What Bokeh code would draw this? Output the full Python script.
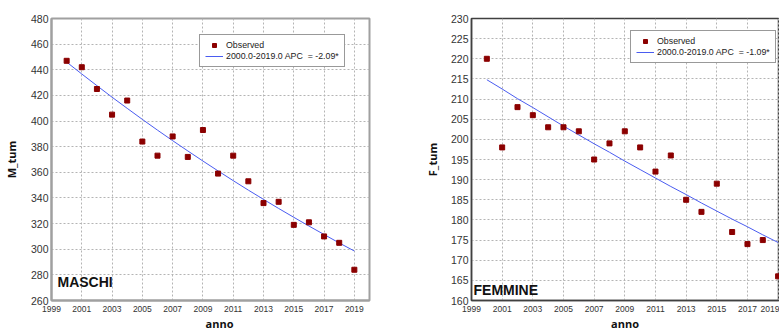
from bokeh.plotting import figure
from bokeh.models import FixedTicker, Range1d, Legend, LegendItem, Label, Div
from bokeh.layouts import row, column
from bokeh.embed import file_html
from bokeh.resources import INLINE

# ---- data ----
years = [2000, 2001, 2002, 2003, 2004, 2005, 2006, 2007, 2008, 2009,
         2010, 2011, 2012, 2013, 2014, 2015, 2016, 2017, 2018, 2019]
m_observed = [447, 442, 425, 405, 416, 384, 373, 388, 372, 393,
              359, 373, 353, 336, 337, 319, 321, 310, 305, 284]
m_fitted = [446.0, 436.7, 427.6, 418.6, 409.9, 401.3, 392.9, 384.7, 376.7, 368.8,
            361.1, 353.5, 346.1, 338.9, 331.8, 324.9, 318.1, 311.5, 304.9, 298.6]
f_observed = [220, 198, 208, 206, 203, 203, 202, 195, 199, 202,
              198, 192, 196, 185, 182, 189, 177, 174, 175, 166]
f_fitted = [214.8, 212.5, 210.1, 207.9, 205.6, 203.3, 201.1, 198.9, 196.8, 194.6,
            192.5, 190.4, 188.3, 186.3, 184.2, 182.2, 180.2, 178.3, 176.3, 174.4]
x_ticks = [1999, 2001, 2003, 2005, 2007, 2009, 2011, 2013, 2015, 2017, 2019]
m_ticks = [260, 280, 300, 320, 340, 360, 380, 400, 420, 440, 460, 480]
f_ticks = [160, 165, 170, 175, 180, 185, 190, 195, 200, 205, 210, 215, 220, 225, 230]
m_apc_label = "2000.0-2019.0 APC  = -2.09*"
f_apc_label = "2000.0-2019.0 APC  = -1.09*"
x_label = "anno"

MARKER = "#8b0000"
LINE = "#4a5cf0"
FONT = "Liberation Sans"


def make_panel(obs, fit, yticks, ylabel, apc_label, title, x_end,
               width, mb_left, mb_right, mb_top, frame_col, frame_w,
               leg_loc, ylab_standoff, title_pos):
    p = figure(width=width, height=318, output_backend="svg", toolbar_location=None,
               x_range=Range1d(1999, x_end), y_range=Range1d(yticks[0], yticks[-1]),
               min_border_left=mb_left, min_border_right=mb_right,
               min_border_top=mb_top, min_border_bottom=18)
    p.background_fill_color = "white"
    p.border_fill_color = "white"
    p.outline_line_color = frame_col
    p.outline_line_width = frame_w

    for ax in (p.xaxis[0], p.yaxis[0]):
        ax.axis_line_color = frame_col
        ax.axis_line_width = frame_w
        ax.major_tick_line_color = None
        ax.minor_tick_line_color = None
        ax.major_tick_out = 0
        ax.major_tick_in = 0
        ax.major_label_text_font = FONT
        ax.major_label_text_color = "#333333"
        ax.axis_label_text_font = "Open Sans"
        ax.axis_label_text_font_style = "bold"
        ax.axis_label_text_font_size = "11px"
        ax.axis_label_text_color = "#111111"

    p.xaxis.ticker = FixedTicker(ticks=x_ticks)
    p.yaxis.ticker = FixedTicker(ticks=yticks)
    p.xaxis.major_label_text_font_size = "8.5px"
    p.yaxis.major_label_text_font_size = "10.5px"
    p.xaxis.major_label_standoff = 5
    p.yaxis.major_label_standoff = 3
    p.yaxis.axis_label = ylabel
    p.yaxis.axis_label_standoff = ylab_standoff

    for g in (p.xgrid[0], p.ygrid[0]):
        g.grid_line_color = "#b4b4b4"
        g.grid_line_dash = "2 2"
        g.grid_line_width = 1
    p.xgrid.ticker = FixedTicker(ticks=x_ticks)
    p.ygrid.ticker = FixedTicker(ticks=yticks)

    ln = p.line(years, fit, line_color=LINE, line_width=1)
    sc = p.scatter(years, obs, marker="square", size=5,
                   fill_color=MARKER, line_color=MARKER)

    legend = Legend(items=[LegendItem(label="Observed", renderers=[sc]),
                           LegendItem(label=apc_label, renderers=[ln])],
                    location=leg_loc)
    legend.border_line_color = "#333333"
    legend.border_line_width = 1.5
    legend.background_fill_color = "white"
    legend.background_fill_alpha = 1
    legend.label_text_font = FONT
    legend.label_text_font_size = "8.8px"
    legend.label_text_color = "#222222"
    legend.label_height = 10
    legend.glyph_height = 10
    legend.glyph_width = 18
    legend.label_standoff = 3
    legend.spacing = 1
    legend.padding = 5
    legend.margin = 0
    p.add_layout(legend)

    p.add_layout(Label(x=title_pos[0], y=title_pos[1], x_units="screen", y_units="screen",
                       text=title, text_font=FONT, text_font_style="bold",
                       text_font_size="14px", text_color="#111111"))
    return p


def xlabel_div(width, pad_left, frame_width):
    return Div(text=x_label, width=width, height=12, margin=0,
               styles={"font-family": "Open Sans", "font-weight": "bold",
                       "font-size": "11px", "color": "#111111", "line-height": "12px",
                       "padding-left": f"{pad_left}px", "width": f"{frame_width}px",
                       "text-align": "center", "overflow": "visible"})


p1 = make_panel(m_observed, m_fitted, m_ticks, "M_tum", m_apc_label, "MASCHI", 2020,
                390, 49, 21, 17, "#a0a0a0", 2, (148, 233), 9, (6, 11))
p2 = make_panel(f_observed, f_fitted, f_ticks, "F_tum", f_apc_label, "FEMMINE", 2019.09,
                389, 81, 0, 18, "#404040", 1.5, (159, 237), 8, (2, 3))

d1 = xlabel_div(390, 49, 320)
d2 = xlabel_div(389, 81, 308)

layout = column(row(p1, p2, spacing=0), row(d1, d2, spacing=0), spacing=0)
open("out.html", "w").write(file_html(layout, INLINE))
